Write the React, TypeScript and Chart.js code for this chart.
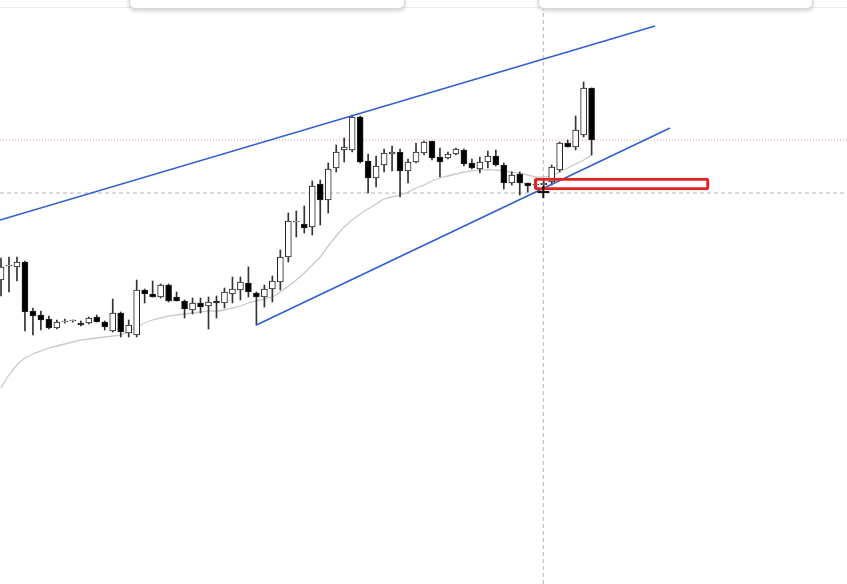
import React, { useEffect, useRef } from "react";
import { Chart, registerables } from "chart.js";
Chart.register(...registerables);

// Candle data (price units), one entry per candle
const opens = [320,334,333,338,289,285,281,272,278,279,277,277,283,278,269,287,267,265,310,306,303,315,303,299,290,297,294,299,297,306,310,317,307,303,311,318,343,378,376,373,416,400,432,450,450,483,439,422,435,446,448,429,438,447,459,443,442,446,450,437,431,438,444,435,417,426,417,415,415,418,430,457,453,465,512];
const highs = [342,343,343,339,292,289,284,280,281,280,279,283,285,279,301,288,280,320,311,319,316,316,308,300,302,302,303,304,312,323,323,333,308,315,324,350,387,389,394,419,420,437,455,462,485,484,446,444,451,454,451,441,457,459,459,452,448,452,451,441,443,449,450,437,428,428,417,418,420,435,458,460,484,518,512];
const lows = [304,308,319,269,265,270,271,271,277,278,274,276,278,270,268,263,263,263,297,303,302,298,299,282,286,287,271,282,292,297,300,303,275,293,298,310,338,363,367,365,375,387,428,438,448,437,407,413,428,429,403,417,437,445,440,423,441,445,434,431,427,432,434,411,415,405,408,412,411,415,428,453,450,463,445];
const closes = [333,335,338,288,284,280,272,278,279,279,275,282,278,273,287,268,275,310,306,303,315,299,299,291,297,293,298,297,308,311,318,308,303,311,319,343,379,379,372,414,400,431,448,453,483,438,422,434,447,448,429,438,448,458,442,438,446,451,436,432,438,444,435,417,425,417,414,416,417,433,457,453,470,512,460];
// Moving average values per candle
const maValues = [212,225,235,242,246,249,252,254,256,258,260,261,262,263,264,265,269,273,277,280,282,284,285,286,287,288,289,289,290,292,294,297,299,301,303,308,314,320,327,335,343,354,364,373,380,386,391,396,401,403,405,408,412,415,419,422,424,426,428,429,430,430,430,429,428,427,425,423,423,424,428,432,436,440,445];

// Drawn annotations (x in candle index units, y in price units)
const upperTrendX = [-0.125, 81.95];
const upperTrendY = [380, 574];
const lowerTrendX = [32, 83.83];
const lowerTrendY = [275, 472];
const redDottedLevel = [460];
const grayDashedLevel = [407];
const cursorX = [67.95];
const cursorY = [408];
const boxCenterX = [77.76];
const boxRange = [410, 422];

const X_MIN = -0.125;
const X_MAX = 106.0;
const Y_MIN = 16;
const Y_MAX = 600;

export default function App() {
  const ref = useRef<HTMLCanvasElement>(null);
  useEffect(() => {
    document.body.style.margin = "0";
    const wickData = opens.map((_, i) => ({ x: i, y: [lows[i], highs[i]] }));
    const bodyData = opens.map((o, i) => ({ x: i, y: [o, closes[i]] }));
    const bodyColors = opens.map((o, i) => (closes[i] >= o ? "#ffffff" : "#000000"));
    const chart = new Chart(ref.current!, {
      type: "bar",
      data: {
        datasets: [
          {
            type: "line",
            label: "cursor",
            data: [{ x: cursorX[0], y: cursorY[0] }],
            showLine: false,
            pointStyle: "cross",
            pointRadius: 6,
            pointBorderWidth: 2,
            borderColor: "#111111",
            pointBorderColor: "#111111",
          } as any,
          {
            type: "bar",
            label: "box",
            data: [{ x: boxCenterX[0], y: [boxRange[0], boxRange[1]] }],
            barThickness: 175,
            grouped: false,
            backgroundColor: "rgba(255,255,255,0)",
            borderColor: "#e3231f",
            borderWidth: 2.5,
            borderRadius: 3,
            borderSkipped: false,
          } as any,
          {
            type: "line",
            label: "upper",
            data: upperTrendX.map((x, i) => ({ x, y: upperTrendY[i] })),
            borderColor: "#2f5fd0",
            borderWidth: 1.6,
            pointRadius: 0,
          } as any,
          {
            type: "line",
            label: "lower",
            data: lowerTrendX.map((x, i) => ({ x, y: lowerTrendY[i] })),
            borderColor: "#2f5fd0",
            borderWidth: 1.6,
            pointRadius: 0,
          } as any,
          {
            type: "bar",
            label: "bodies",
            data: bodyData,
            barThickness: 6,
            grouped: false,
            minBarLength: 1,
            backgroundColor: bodyColors,
            borderColor: "#222222",
            borderWidth: 1,
            borderSkipped: false,
          } as any,
          {
            type: "bar",
            label: "wicks",
            data: wickData,
            barThickness: 1,
            grouped: false,
            backgroundColor: "#333333",
            borderWidth: 0,
          } as any,
          {
            type: "line",
            label: "ma",
            data: maValues.map((v, i) => ({ x: i, y: v })),
            borderColor: "#c9c9c9",
            borderWidth: 1.3,
            pointRadius: 0,
            tension: 0.3,
          } as any,
          {
            type: "line",
            label: "red level",
            data: [{ x: X_MIN, y: redDottedLevel[0] }, { x: X_MAX, y: redDottedLevel[0] }],
            borderColor: "#e6998c",
            borderWidth: 1,
            borderDash: [1, 2],
            pointRadius: 0,
          } as any,
          {
            type: "line",
            label: "gray level",
            data: [{ x: X_MIN, y: grayDashedLevel[0] }, { x: X_MAX, y: grayDashedLevel[0] }],
            borderColor: "#b4b4b4",
            borderWidth: 1,
            borderDash: [4, 3],
            pointRadius: 0,
          } as any,
          {
            type: "line",
            label: "vertical",
            data: [{ x: cursorX[0], y: Y_MIN }, { x: cursorX[0], y: Y_MAX }],
            borderColor: "#b4b4b4",
            borderWidth: 1,
            borderDash: [4, 3],
            pointRadius: 0,
          } as any,
        ],
      },
      options: {
        responsive: false,
        animation: false,
        layout: { padding: 0, autoPadding: false },
        plugins: { legend: { display: false }, tooltip: { enabled: false } },
        scales: {
          x: { type: "linear", min: X_MIN, max: X_MAX, offset: false, display: false },
          y: { type: "linear", min: Y_MIN, max: Y_MAX, display: false },
        },
      },
    });
    return () => chart.destroy();
  }, []);

  const boxStyle = (left: number, width: number): React.CSSProperties => ({
    position: "absolute",
    left,
    width,
    top: -14,
    height: 21,
    background: "#ffffff",
    border: "1px solid #d6d6d6",
    borderRadius: 6,
    boxShadow: "0 2px 4px rgba(0,0,0,0.18)",
  });

  return (
    <div style={{ position: "relative", width: 847, height: 584, overflow: "hidden", background: "#ffffff" }}>
      <canvas ref={ref} width={847} height={584} style={{ display: "block" }} />
      <div style={{ position: "absolute", left: 0, top: 7, width: 847, height: 1, background: "#ececec" }} />
      <div style={boxStyle(129, 274)} />
      <div style={boxStyle(538, 273)} />
    </div>
  );
}
